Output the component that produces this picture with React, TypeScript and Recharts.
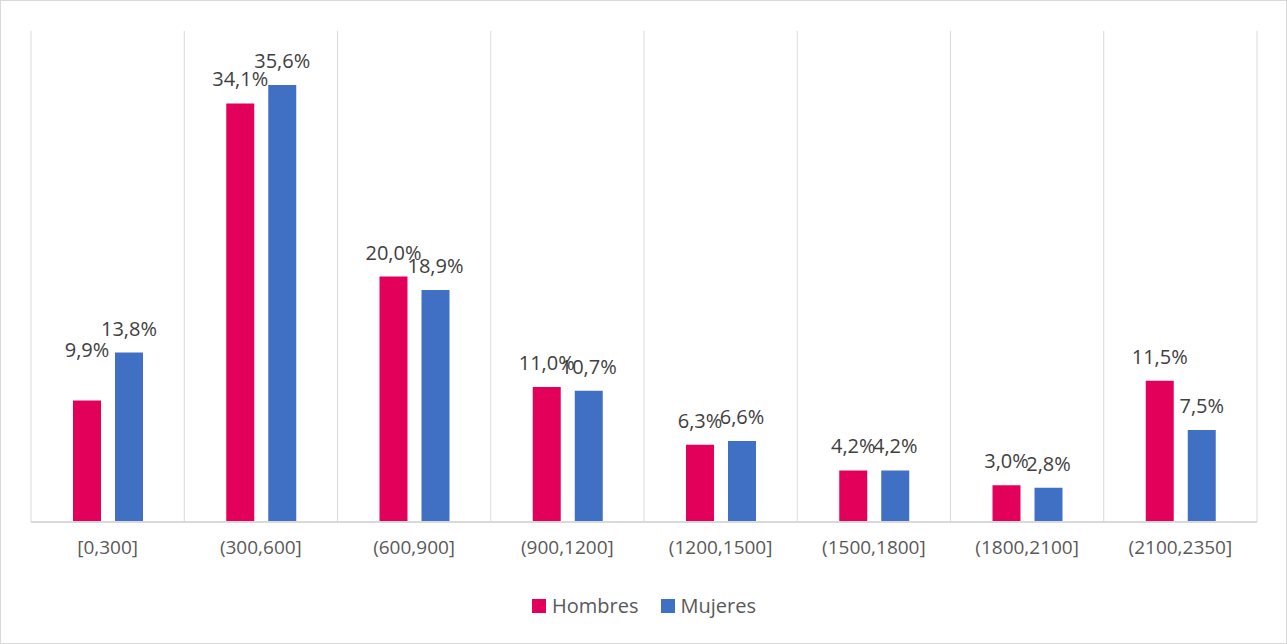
import React from 'react';
import { BarChart, Bar, XAxis, YAxis, CartesianGrid, Legend, LabelList } from 'recharts';

const categories = ['[0,300]', '(300,600]', '(600,900]', '(900,1200]', '(1200,1500]', '(1500,1800]', '(1800,2100]', '(2100,2350]'];
const hombres = [9.9, 34.1, 20.0, 11.0, 6.3, 4.2, 3.0, 11.5];
const mujeres = [13.8, 35.6, 18.9, 10.7, 6.6, 4.2, 2.8, 7.5];

const RED = '#E3005B';
const BLUE = '#4070C4';
const FONT = "'Open Sans', 'Noto Sans', sans-serif";

const data = categories.map((c, i) => ({ name: c, hombres: hombres[i], mujeres: mujeres[i] }));

const fmt = (v: number) => v.toFixed(1).replace('.', ',') + '%';

// Excel pushed the first label up a bit to dodge its neighbour
const makeLabel = (series: string) => (props: any) => {
  const { x, y, width, value, index } = props;
  const lift = series === 'hombres' && index === 0 ? 26 : 0;
  return (
    <text
      x={x + width / 2}
      y={y - 17 - lift}
      textAnchor="middle"
      fill="#404040"
      fontSize={20}
      fontFamily={FONT}
    >
      {fmt(value)}
    </text>
  );
};

const LegendContent = () => (
  <div style={{ height: 51, display: 'flex', justifyContent: 'center', alignItems: 'flex-start', paddingTop: 0, fontFamily: FONT, fontSize: 20, color: '#595959' }}>
    {[{ n: 'Hombres', c: RED }, { n: 'Mujeres', c: BLUE }].map((s) => (
      <div key={s.n} style={{ display: 'flex', alignItems: 'center', margin: '0 11px' }}>
        <span style={{ width: 14, height: 14, background: s.c, display: 'inline-block', marginRight: 6 }}></span>
        <span>{s.n}</span>
      </div>
    ))}
  </div>
);

export default function App() {
  return (
    <div style={{ position: 'fixed', left: 0, top: 0, width: 1287, height: 644, background: '#fff', border: '1px solid #d9d9d9', boxSizing: 'border-box' }}>
      <BarChart
        width={1285}
        height={642}
        data={data}
        margin={{ top: 30, right: 29, left: 30, bottom: 0 }}
        barSize={28}
        barGap={14}
      >
        <CartesianGrid
          horizontal={false}
          stroke="#d9d9d9"
          verticalCoordinatesGenerator={({ offset }: any) =>
            Array.from({ length: categories.length + 1 }, (_, i) => offset.left + (i * offset.width) / categories.length)
          }
        />
        <XAxis
          dataKey="name"
          axisLine={{ stroke: '#d9d9d9', strokeWidth: 2 }}
          tickLine={false}
          tickMargin={13}
          height={70}
          tick={{ fill: '#595959', fontSize: 19, fontFamily: FONT }}
          interval={0}
        />
        <YAxis hide domain={[0, 40]} />
        <Legend verticalAlign="bottom" height={51} content={<LegendContent />} />
        <Bar dataKey="hombres" fill={RED} isAnimationActive={false}>
          <LabelList dataKey="hombres" content={makeLabel('hombres')} />
        </Bar>
        <Bar dataKey="mujeres" fill={BLUE} isAnimationActive={false}>
          <LabelList dataKey="mujeres" content={makeLabel('mujeres')} />
        </Bar>
      </BarChart>
    </div>
  );
}
